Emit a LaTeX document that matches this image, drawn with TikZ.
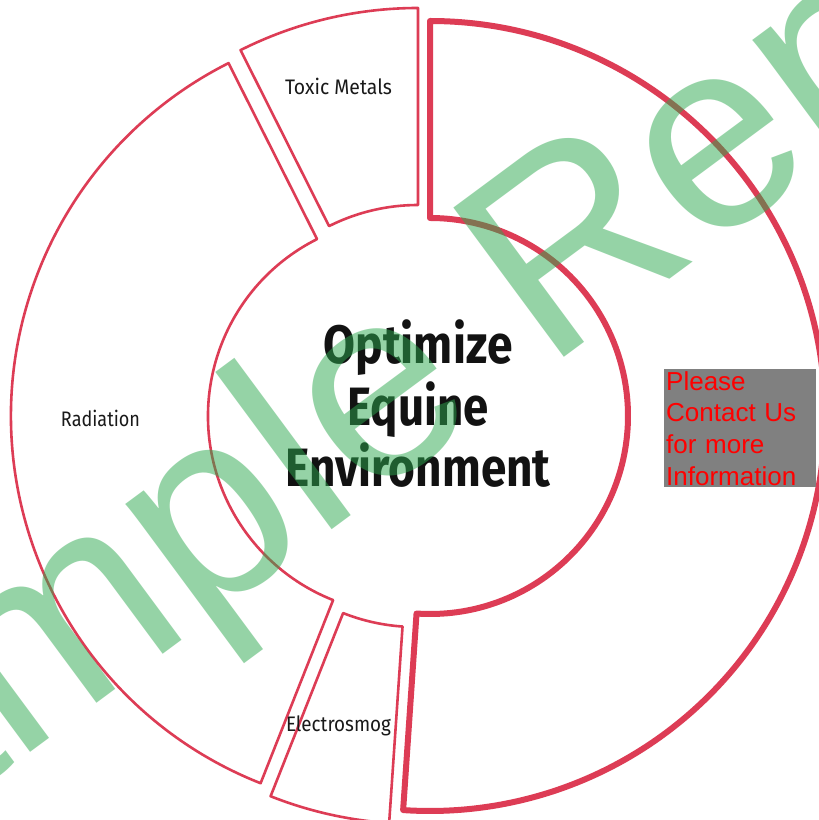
\documentclass[tikz,border=0pt]{standalone}
\usepackage{fontspec}
\usepackage{graphicx}
\setmainfont{Fira Sans}
\newfontfamily\wmfont{Liberation Sans}
\newfontfamily\lblfont{Fira Sans}
\definecolor{segred}{RGB}{221,60,85}
\definecolor{wmgreen}{RGB}{45,169,79}
\definecolor{boxgray}{RGB}{128,128,128}
\newcommand\fitw[2]{\resizebox{#1}{\height}{#2}}
\newcommand\donutseg[4]{%
  \draw[#1] ([shift={(#3:198)}]#2) arc[start angle=#3, end angle=#4, radius=198]
    -- ([shift={(#4:395)}]#2) arc[start angle=#4, end angle=#3, radius=395] -- cycle;}
\begin{document}
\begin{tikzpicture}[x=1pt,y=1pt,
  seg/.style={draw=segred, line width=2.6pt, line join=round, fill=white},
  bigseg/.style={seg, line width=6pt},
  lbl/.style={font=\lblfont\fontsize{21}{25}\selectfont, text=black!90, inner sep=0pt, anchor=base},
]
\useasboundingbox (0,0) rectangle (819,820);
\clip (0,0) rectangle (819,820);
\fill[white] (0,0) rectangle (819,820);

\coordinate (cBig) at (430,404);
\coordinate (cTox) at (418,417);
\coordinate (cRad) at (406,404);
\coordinate (cEle) at (416,391);

\donutseg{bigseg}{cBig}{266.1}{450}
\donutseg{seg}{cTox}{90}{116.7}
\donutseg{seg}{cRad}{116.7}{248.4}
\donutseg{seg}{cEle}{248.4}{266.1}

\node[font=\bfseries\fontsize{54}{61.5}\selectfont, text=black!93, align=center, inner sep=0pt] (title) at (418,416)
  {\fitw{189pt}{Optimize}\\\fitw{141pt}{Equine}\\\fitw{265pt}{Environment}};

\node[lbl] (toxic) at (338.5,725.7) {\fitw{107pt}{Toxic Metals}};
\node[lbl] (radiation) at (100.5,393) {\fitw{79pt}{Radiation}};
\node[lbl] (electro) at (338.5,88) {\fitw{105pt}{Electrosmog}};

\node[fill=boxgray, text=red, font=\wmfont\fontsize{26}{31.7}\selectfont, text width=148pt,
  align=left, inner xsep=2pt, inner ysep=2pt, anchor=north west] (contact) at (664,451)
  {Please\\Contact Us\\for more\\Information};

\node[font=\wmfont\fontsize{270}{270}\selectfont, text=wmgreen, opacity=0.5, rotate=36.5,
  anchor=base west, inner sep=0pt] (wm) at (-250,-140) {Sample Report};
\end{tikzpicture}
\end{document}
